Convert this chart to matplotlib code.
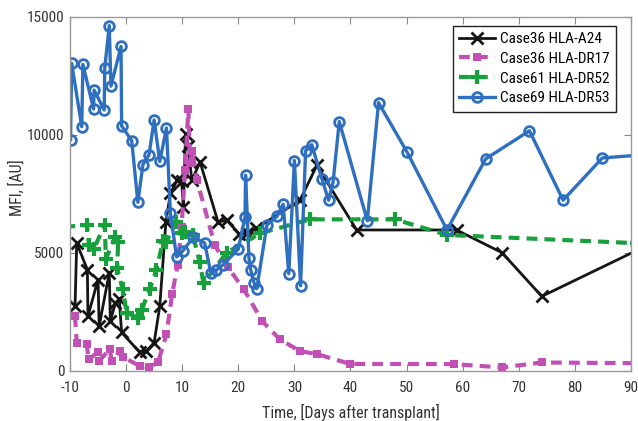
import matplotlib
matplotlib.use("Agg")
import matplotlib.pyplot as plt
from matplotlib import font_manager as fm

# ---- data ----
a24_x = [-9.1, -8.8, -6.9, -6.8, -5.0, -4.8, -3.0, -2.8, -1.9, -1.2, -0.8, 2.4, 3.6, 5.0, 6.0,
         7.1, 7.9, 9.1, 9.9, 10.2, 10.6, 11.1, 11.7, 13.2, 16.4, 17.9, 20.2, 21.5, 23.2,
         31.0, 34.0, 41.1, 58.9, 67.0, 74.1, 91.0]
a24_y = [2740, 5410, 4290, 2320, 3870, 1900, 4160, 2110, 2890, 3030, 1630, 800, 840, 1200, 2740,
         6320, 7520, 8070, 8030, 6950, 10040, 9540, 8070, 8840, 6300, 6390, 5800, 5830, 6040,
         7230, 8700, 5970, 5970, 5010, 3160, 5100]

dr17_x = [-9.1, -8.8, -7.0, -6.7, -5.0, -4.8, -2.9, -2.6, -1.1, -0.5, 2.4, 4.0, 5.7, 7.2,
          8.2, 9.2, 9.9, 10.5, 11.1, 11.4, 11.8, 12.6, 15.8, 18.1, 21.0, 24.3, 27.4,
          31.0, 34.1, 39.9, 58.4, 67.0, 74.1, 91.0]
dr17_y = [2320, 1200, 1130, 500, 790, 430, 920, 430, 850, 580, 220, 150, 370, 1550,
          3240, 4500, 6100, 8490, 11080, 8800, 9300, 8100, 5340, 4410, 3450, 2100, 1340,
          840, 710, 300, 290, 150, 360, 330]

dr52_x = [-11.0, -7.0, -6.6, -5.8, -3.8, -3.6, -1.9, -1.4, -1.6, -0.6, 0.1, 2.1, 2.8, 4.2, 5.4,
          6.6, 7.2, 8.9, 9.9, 10.5, 11.9, 13.1, 13.8, 17.9, 23.9, 32.8, 47.9, 57.2, 91.0]
dr52_y = [6100, 6180, 5340, 5150, 6180, 4750, 5690, 5480, 4350, 3450, 2470, 2250, 2600, 3450, 4290,
          5520, 5480, 6320, 5830, 5900, 5760, 4630, 3730, 5000, 5830, 6420, 6420, 5760, 5410]

dr53_x = [-9.9, -9.7, -7.9, -7.7, -5.8, -5.7, -3.9, -3.8, -3.0, -2.7, -0.9, -0.8, 1.0, 2.1,
          3.0, 4.1, 5.0, 6.0, 7.2, 7.9, 9.0, 10.1, 12.0, 14.0, 15.1, 16.0, 17.3, 20.0,
          21.2, 21.3, 21.9, 22.2, 22.8, 23.3, 25.1, 26.9, 28.0, 29.0, 30.0, 31.1, 32.0,
          33.1, 34.9, 36.1, 36.9, 38.0, 43.0, 45.0, 50.1, 57.2, 64.1, 71.9, 77.9, 84.9, 91.0]
dr53_y = [9790, 13025, 10340, 12980, 11090, 11890, 11050, 12830, 14620, 12060, 13740, 10380, 9750, 7140,
          8740, 9160, 10630, 8870, 10290, 6680, 4830, 5080, 5670, 5420, 4160, 4260, 4500, 5160,
          6510, 8280, 4790, 4290, 3740, 3490, 6180, 6550, 7060, 4120, 8910, 3610, 9330,
          9580, 8140, 7230, 8000, 10560, 6360, 11360, 9260, 5970, 8980, 10170, 7230, 9020, 9130]

labels = ["Case36 HLA-A24", "Case36 HLA-DR17", "Case61 HLA-DR52", "Case69 HLA-DR53"]
x_ticks = [-10, 0, 10, 20, 30, 40, 50, 60, 70, 80, 90]
y_ticks = [0, 5000, 10000, 15000]

available = {f.name for f in fm.fontManager.ttflist}
family = 'DejaVu Sans'
for cand in ['Liberation Sans Narrow', 'Arial Narrow', 'Roboto Condensed', 'PT Sans Narrow',
             'Archivo Narrow', 'Liberation Sans']:
    if cand in available:
        family = cand
        break
plt.rcParams['font.family'] = [family, 'DejaVu Sans']
plt.rcParams['axes.unicode_minus'] = False

TXT = '#333333'
fig = plt.figure(figsize=(6.38, 4.21), dpi=100)
ax = fig.add_axes([0.1097, 0.1188, 0.8793, 0.8416])

ax.plot(a24_x, a24_y, '-', color='#151515', lw=2.0, marker='x', ms=8, mew=2.0,
        label=labels[0])
ax.plot(dr17_x, dr17_y, '--', color='#c24fb4', lw=3.0, marker='s', ms=5.5, mew=0,
        dashes=(2.6, 1.7), label=labels[1])
ax.plot(dr52_x, dr52_y, '--', color='#17a03c', lw=3.0, marker='+', ms=10, mew=3.0,
        dashes=(2.6, 1.7), label=labels[2])
ax.plot(dr53_x, dr53_y, '-', color='#2f6fc0', lw=2.4, marker='o', ms=7, mew=2.0,
        mfc='none', mec='#2f6fc0', label=labels[3])

ax.set_xlim(-10, 90)
ax.set_ylim(0, 15000)
ax.set_xticks(x_ticks)
ax.set_yticks(y_ticks)
ax.tick_params(axis='both', direction='in', top=True, right=True, length=5, width=0.8,
               colors='#888888', labelcolor=TXT, labelsize=11)
ax.tick_params(axis='x', pad=7)
ax.tick_params(axis='y', pad=4)
for s in ax.spines.values():
    s.set_color('#999999')
    s.set_linewidth(1.0)

ax.set_xlabel("Time, [Days after transplant]", fontsize=11.5, color=TXT)
ax.set_ylabel("MFI, [AU]", fontsize=11.5, color=TXT)
ax.xaxis.set_label_coords(0.5, -0.094)
ax.yaxis.set_label_coords(-0.080, 0.517)

leg = ax.legend(loc='upper right', bbox_to_anchor=(0.973, 0.975), borderaxespad=0,
                fontsize=11, frameon=True, fancybox=False,
                framealpha=1, edgecolor='#222222', handlelength=2.35,
                labelspacing=0.38, handletextpad=0.3, borderpad=0.42)
leg.get_frame().set_linewidth(1.0)

fig.savefig("out.png", dpi=100)
